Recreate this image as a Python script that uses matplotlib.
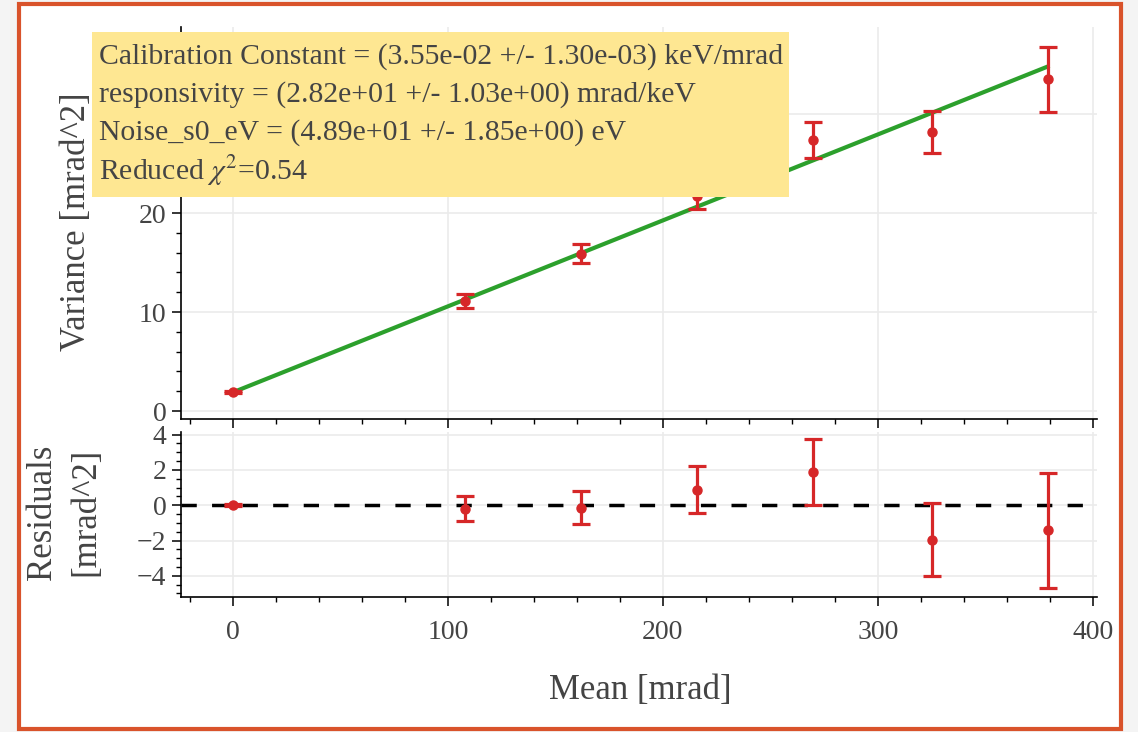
import matplotlib
matplotlib.use("Agg")
import matplotlib.pyplot as plt
from matplotlib.patches import Rectangle
from matplotlib.ticker import MultipleLocator

plt.rcParams['font.family'] = ['Liberation Serif', 'DejaVu Serif']
plt.rcParams['mathtext.fontset'] = 'stix'

# data
mean_mrad = [0, 108, 162, 216, 270, 325, 379]
variance = [1.95, 11.15, 15.9, 21.7, 27.4, 28.2, 33.5]
variance_err = [0.12, 0.72, 0.95, 1.3, 1.8, 2.1, 3.3]
residuals = [0.0, -0.2, -0.15, 0.88, 1.9, -1.95, -1.42]
residual_err = [0.05, 0.72, 0.94, 1.32, 1.87, 2.08, 3.27]
fit_x = [0, 379]
fit_y = [1.9, 34.8]

info_lines = [
    'Calibration Constant = (3.55e-02 +/- 1.30e-03) keV/mrad',
    'responsivity = (2.82e+01 +/- 1.03e+00) mrad/keV',
    'Noise_s0_eV = (4.89e+01 +/- 1.85e+00) eV',
    r'Reduced $\chi^2$=0.54',
]

RED = '#d62728'
GREEN = '#2ca02c'
TXT = '#444444'
W, H = 1138, 732

fig = plt.figure(figsize=(W / 100, H / 100), dpi=100, facecolor='#f4f4f4')

# white panel with orange border
fig.patches.append(Rectangle((19 / W, 1 - 729 / H), (1121 - 19) / W, (729 - 4) / H,
                             transform=fig.transFigure, facecolor='white',
                             edgecolor='#d9532b', linewidth=3, zorder=-2))


def px_axes(x0, y0, x1, y1):
    return fig.add_axes([x0 / W, 1 - y1 / H, (x1 - x0) / W, (y1 - y0) / H])


ax = px_axes(181, 27, 1097, 419)
axr = px_axes(181, 432, 1097, 597)

for a in (ax, axr):
    a.set_facecolor('none')
    a.spines['top'].set_visible(False)
    a.spines['right'].set_visible(False)
    for s in ('left', 'bottom'):
        a.spines[s].set_linewidth(1.2)
    a.set_xlim(-24.2, 402)
    a.xaxis.set_major_locator(MultipleLocator(100))
    a.xaxis.set_minor_locator(MultipleLocator(20))
    a.grid(True, which='major', color='#ebebeb', linewidth=1.2, zorder=0)
    a.set_axisbelow(True)
    a.tick_params(which='major', direction='out', length=6.5, width=1.1,
                  labelsize=20, labelcolor=TXT)
    a.tick_params(which='minor', direction='out', length=3.6, width=1.0)
    a.tick_params(axis='x', which='major', pad=10)
    a.tick_params(axis='y', which='major', pad=4)

# top panel
ax.set_ylim(-0.8, 38.8)
ax.yaxis.set_major_locator(MultipleLocator(10))
ax.yaxis.set_minor_locator(MultipleLocator(2))
ax.tick_params(axis='x', labelbottom=False)
ax.plot(fit_x, fit_y, color=GREEN, linewidth=3, zorder=3)
ax.errorbar(mean_mrad, variance, yerr=variance_err, fmt='o', color=RED,
            markersize=6.5, elinewidth=2.3, capsize=6.5, capthick=2.3, zorder=4)

# residual panel
axr.set_ylim(-5.2, 4.15)
axr.yaxis.set_major_locator(MultipleLocator(2))
axr.yaxis.set_minor_locator(MultipleLocator(0.5))
axr.axhline(0, color='black', linewidth=2.5, linestyle=(0, (4.4, 4.4)), zorder=2)
axr.errorbar(mean_mrad, residuals, yerr=residual_err, fmt='o', color=RED,
             markersize=6.5, elinewidth=2.3, capsize=6.5, capthick=2.3, zorder=4)

# axis labels
fig.text(76 / W, 1 - 222 / H, 'Variance [mrad^2]', rotation=90, ha='center',
         va='center', fontsize=25, color=TXT)
fig.text(64 / W, 1 - 512 / H, 'Residuals\n[mrad^2]', rotation=90, ha='center',
         va='center', fontsize=25, color=TXT, linespacing=1.4)
fig.text(640 / W, 1 - 690 / H, 'Mean [mrad]', ha='center', va='center',
         fontsize=25, color=TXT)

# fit info box
fig.patches.append(Rectangle((92 / W, 1 - 197 / H), (789 - 92) / W, (197 - 32) / H,
                             transform=fig.transFigure, facecolor='#fee792',
                             edgecolor='none', zorder=10))
for i, line in enumerate(info_lines):
    fig.text(99 / W, 1 - (57 + 38 * i) / H, line, ha='left', va='center',
             fontsize=21.4, color=TXT, zorder=11)

fig.savefig('out.png', dpi=100, facecolor=fig.get_facecolor())
